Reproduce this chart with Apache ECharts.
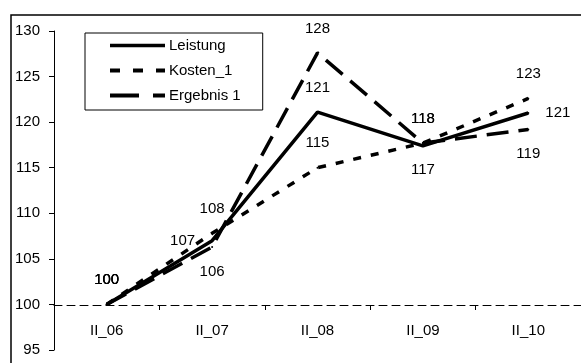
<!DOCTYPE html>
<html>
<head>
<meta charset="utf-8">
<script src="https://cdn.jsdelivr.net/npm/echarts@6/dist/echarts.min.js"></script>
<style>
html,body{margin:0;padding:0;background:#fff;}
#chart{width:581px;height:363px;}
</style>
</head>
<body>
<div id="chart"></div>
<script>
var categories = ['II_06', 'II_07', 'II_08', 'II_09', 'II_10'];
var leistung = [100, 107, 121.1, 117.4, 121];
var kosten = [100, 107.8, 115, 117.7, 122.6];
var ergebnis = [100, 106.3, 127.6, 117.7, 119.2];
var yTicks = [95, 100, 105, 110, 115, 120, 125, 130];

var leistungPos = ['top', 'left', 'top', 'bottom', 'right'];
var kostenPos = ['top', 'top', 'top', 'top', 'top'];
var ergebnisPos = ['top', 'bottom', 'top', 'top', 'bottom'];

var FONT = '"Liberation Sans", Arial, sans-serif';

function mkData(vals, pos) {
  return vals.map(function (v, i) {
    return { value: v, label: { position: pos[i] } };
  });
}

function mkSeries(name, vals, pos, dash) {
  return {
    name: name,
    type: 'line',
    data: mkData(vals, pos),
    symbol: 'circle',
    symbolSize: 2,
    showSymbol: true,
    itemStyle: { color: '#000' },
    lineStyle: { color: '#000', width: 3.5, type: dash, cap: 'butt' },
    label: {
      show: true,
      color: '#000',
      fontFamily: FONT,
      fontSize: 15,
      distance: 16,
      formatter: function (p) { return Math.round(p.value); }
    },
    animation: false
  };
}

var chart = echarts.init(document.getElementById('chart'));
chart.setOption({
  backgroundColor: '#fff',
  animation: false,
  textStyle: { fontFamily: FONT },
  graphic: [{
    type: 'rect',
    shape: { x: 11, y: 15, width: 700, height: 500 },
    style: { fill: 'none', stroke: '#000', lineWidth: 1.5 },
    silent: true,
    z: 0
  }],
  grid: { left: 54, right: -4, top: 31, bottom: 13, containLabel: false },
  legend: {
    orient: 'vertical',
    left: 85,
    top: 33,
    padding: [5, 22, 7, 23],
    itemGap: 10,
    itemWidth: 55,
    itemHeight: 14,
    borderColor: '#000',
    borderWidth: 1,
    backgroundColor: '#fff',
    itemStyle: { color: 'rgba(0,0,0,0)', borderColor: 'rgba(0,0,0,0)', borderWidth: 0, opacity: 0 },
    lineStyle: { width: 4, color: '#000' },
    textStyle: { color: '#000', fontSize: 15, fontFamily: FONT, padding: [0, 0, 0, -1] },
    data: [
      { name: 'Leistung', lineStyle: { type: 'solid', width: 3.5 } },
      { name: 'Kosten_1', lineStyle: { type: [10, 13], width: 4 } },
      { name: 'Ergebnis 1', lineStyle: { type: [29, 14], width: 4 } }
    ]
  },
  xAxis: {
    type: 'category',
    data: categories,
    boundaryGap: true,
    offset: -45,
    axisLine: { show: true, lineStyle: { color: '#000', width: 1, type: [8, 5] } },
    axisTick: { show: true, inside: false, length: 5, lineStyle: { color: '#000' } },
    axisLabel: { color: '#000', fontSize: 15, fontFamily: FONT, margin: 18 },
    splitLine: { show: false }
  },
  yAxis: {
    type: 'value',
    min: yTicks[0],
    max: yTicks[yTicks.length - 1],
    interval: 5,
    axisLine: { show: true, lineStyle: { color: '#000', width: 1 } },
    axisTick: { show: true, inside: false, length: 5, lineStyle: { color: '#000' } },
    axisLabel: { color: '#000', fontSize: 15, fontFamily: FONT, margin: 14 },
    splitLine: { show: false }
  },
  series: [
    mkSeries('Kosten_1', kosten, kostenPos, [8, 10]),
    mkSeries('Ergebnis 1', ergebnis, ergebnisPos, [22, 10]),
    mkSeries('Leistung', leistung, leistungPos, 'solid')
  ]
});
</script>
</body>
</html>
